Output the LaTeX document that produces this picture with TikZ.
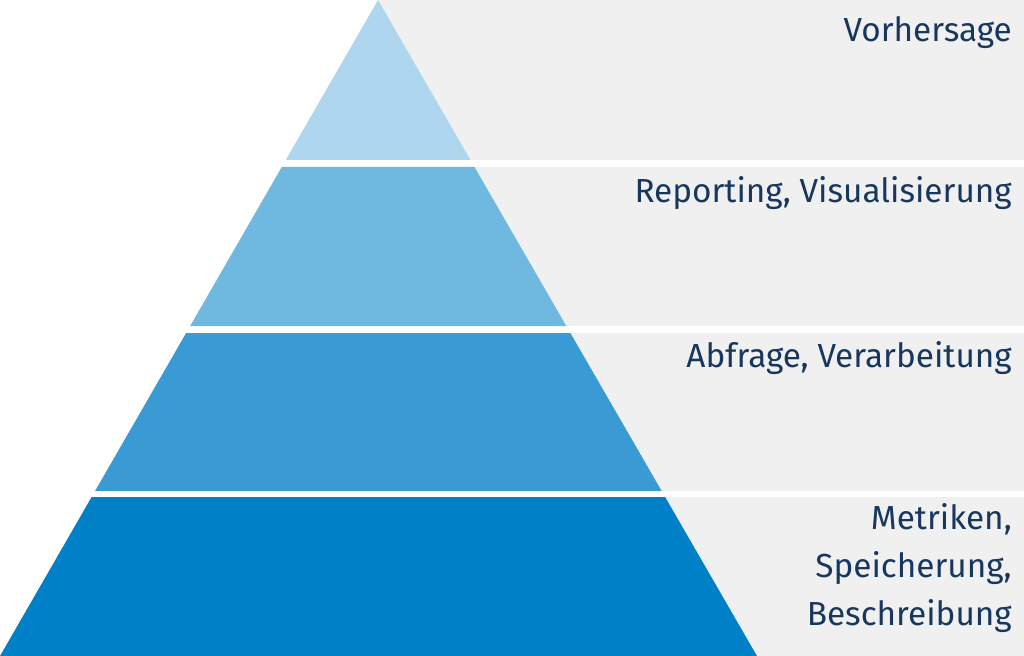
\documentclass[tikz,border=0pt]{standalone}
\usepackage{fontspec}
\setmainfont{Fira Sans}
\usepackage{tikz}
\definecolor{lvlA}{HTML}{AED6EE}
\definecolor{lvlB}{HTML}{6FB8E0}
\definecolor{lvlC}{HTML}{3A9BD4}
\definecolor{lvlD}{HTML}{0080C6}
\definecolor{bandgray}{HTML}{F0F0F0}
\definecolor{labelblue}{HTML}{17375E}
\begin{document}
\begin{tikzpicture}
  [x=0.75pt, y=-0.75pt,
   lvltext/.style={anchor=base east, inner sep=0, text=labelblue,
                   font=\fontsize{25}{36}\selectfont, align=right}]

  \useasboundingbox (0,0) rectangle (1024,656);

  % gray bands on the right
  \foreach \ya/\yb in {0/160, 167/326, 333/491, 497/656}
    \fill[bandgray] (378,\ya) rectangle (1024,\yb);

  % pyramid levels
  \foreach \ya/\yb/\col in {0/160/lvlA, 167/326/lvlB, 333/491/lvlC, 497/656/lvlD}
    \fill[\col] ({378-0.5762*\ya},\ya) -- ({378+0.5777*\ya},\ya)
      -- ({378+0.5777*\yb},\yb) -- ({378-0.5762*\yb},\yb) -- cycle;

  % labels
  \node[lvltext] (forecast) at (1012,42) {Vorhersage};
  \node[lvltext] (report) at (1012,202) {Reporting, Visualisierung};
  \node[lvltext] (query) at (1012,367) {Abfrage, Verarbeitung};
  \node[lvltext, anchor=north east] (metrics) at (1012,503)
    {Metriken,\\Speicherung,\\Beschreibung};
\end{tikzpicture}
\end{document}
